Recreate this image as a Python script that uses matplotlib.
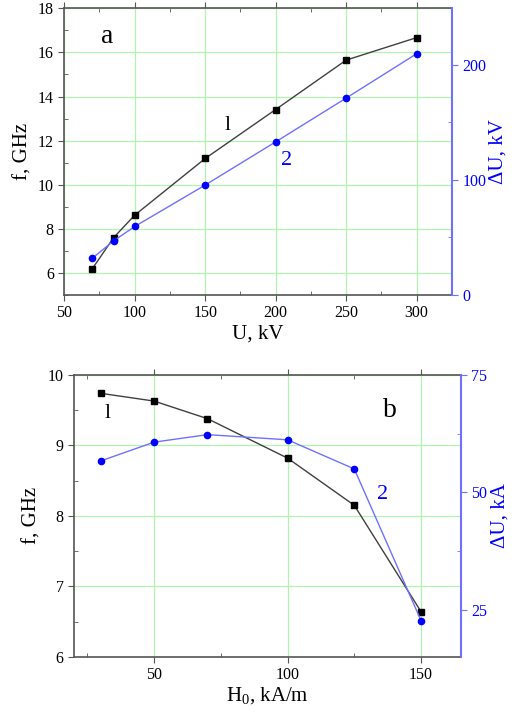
import numpy as np
import matplotlib
matplotlib.use("Agg")
import matplotlib.pyplot as plt
from matplotlib.ticker import MultipleLocator

plt.rcParams['font.family'] = ['Liberation Serif', 'DejaVu Serif']
plt.rcParams['mathtext.fontset'] = 'custom'
plt.rcParams['mathtext.rm'] = 'Liberation Serif'

# panel a
U_kV = [70, 85, 100, 150, 200, 250, 300]
f_a = [6.2, 7.6, 8.62, 11.19, 13.41, 15.65, 16.67]
dU_a = [32, 47, 59.5, 95.5, 133, 171, 209.5]

# panel b
H0 = [30, 50, 70, 100, 125, 150]
f_b = [9.74, 9.63, 9.38, 8.82, 8.15, 6.64]
dU_b = [56.7, 60.7, 62.3, 61.2, 55.0, 22.7]

blk_line = '#404040'
blue_line = '#7070ff'
blue_mk = '#0000ff'
grid_c = '#b0f4b0'
spine_c = '#555555'

fig = plt.figure(figsize=(5.14, 7.22), dpi=100)


def style(ax, ax2, xlab, ylab, y2lab):
    ax.grid(True, which='major', color=grid_c, lw=0.9, zorder=0)
    ax.set_axisbelow(True)
    for s in ['left', 'bottom', 'top']:
        ax.spines[s].set_color(spine_c)
        ax.spines[s].set_linewidth(1.2)
    ax.spines['right'].set_visible(False)
    ax2.spines['right'].set_color(blue_line)
    ax2.spines['right'].set_linewidth(1.5)
    for s in ['left', 'bottom', 'top']:
        ax2.spines[s].set_visible(False)
    ax.tick_params(axis='both', which='major', direction='out', length=4,
                   color=spine_c, labelsize=11.5)
    ax.tick_params(axis='both', which='minor', direction='in', length=3,
                   color=spine_c)
    ax.tick_params(axis='x', which='both', top=True)
    ax2.tick_params(axis='y', which='major', direction='out', length=4,
                    color=blue_line, labelcolor=blue_mk, labelsize=11.5)
    ax2.tick_params(axis='y', which='minor', direction='in', length=3,
                    color=blue_line)
    ax.set_xlabel(xlab, fontsize=15, labelpad=2)
    ax.set_ylabel(ylab, fontsize=15, labelpad=4)
    ax2.set_ylabel(y2lab, fontsize=15, color=blue_mk, labelpad=2)


# ---- a ----
ax = fig.add_axes([0.125, 0.5914, 0.754, 0.3971])
ax2 = ax.twinx()
ax.plot(U_kV, f_a, '-', color=blk_line, lw=1.0, marker='s', ms=4,
        mfc='black', mec='black', zorder=3)
ax2.plot(U_kV, dU_a, '-', color=blue_line, lw=1.0, marker='o', ms=4.5,
         mfc=blue_mk, mec=blue_mk, zorder=3)
ax.set_xlim(50, 325)
ax.set_ylim(5, 18)
ax2.set_ylim(0, 249)
ax.xaxis.set_major_locator(MultipleLocator(50))
ax.xaxis.set_minor_locator(MultipleLocator(25))
ax.yaxis.set_major_locator(MultipleLocator(2))
ax.yaxis.set_minor_locator(MultipleLocator(1))
ax2.yaxis.set_major_locator(MultipleLocator(100))
ax2.yaxis.set_minor_locator(MultipleLocator(50))
style(ax, ax2, 'U, kV', 'f, GHz', '\u0394U, kV')
ax.text(0.11, 0.9, 'a', transform=ax.transAxes, fontsize=20,
        ha='center', va='center')
ax.text(166, 12.7, 'l', fontsize=16, ha='center', va='center')
ax2.text(208, 117, '2', fontsize=16, ha='center', va='center', color=blue_mk)

# ---- b ----
bx = fig.add_axes([0.144, 0.0904, 0.753, 0.3902])
bx2 = bx.twinx()
bx.plot(H0, f_b, '-', color=blk_line, lw=1.0, marker='s', ms=4,
        mfc='black', mec='black', zorder=3)
bx2.plot(H0, dU_b, '-', color=blue_line, lw=1.0, marker='o', ms=4.5,
         mfc=blue_mk, mec=blue_mk, zorder=3)
bx.set_xlim(20, 165)
bx.set_ylim(6, 10)
bx2.set_ylim(15, 75)
bx.xaxis.set_major_locator(MultipleLocator(50))
bx.xaxis.set_minor_locator(MultipleLocator(25))
bx.yaxis.set_major_locator(MultipleLocator(1))
bx.yaxis.set_minor_locator(MultipleLocator(0.5))
bx2.yaxis.set_major_locator(MultipleLocator(25))
bx2.yaxis.set_minor_locator(MultipleLocator(12.5))
style(bx, bx2, 'H$_0$, kA/m', 'f, GHz', '\u0394U, kA')
bx.text(32.5, 9.45, 'l', fontsize=16, ha='center', va='center')
bx.text(138.5, 9.5, 'b', fontsize=20, ha='center', va='center')
bx2.text(135.5, 49.5, '2', fontsize=16, ha='center', va='center', color=blue_mk)

fig.savefig('out.png', dpi=100)
